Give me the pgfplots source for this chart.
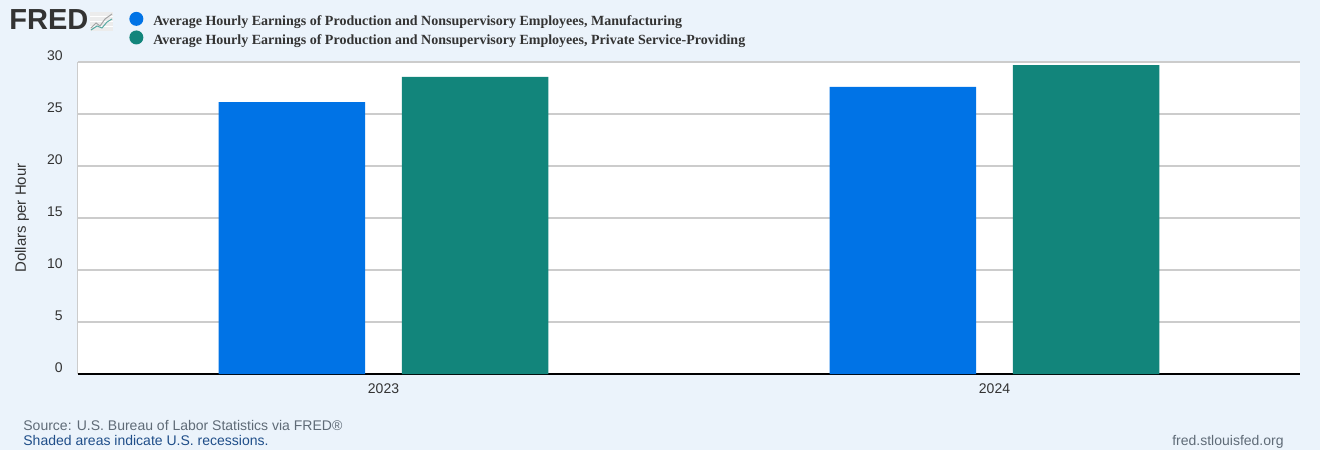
\documentclass[border=0pt]{standalone}
\usepackage{pgfplots}
\pgfplotsset{compat=1.18}
\usepackage{fontspec}
\setmainfont{Liberation Sans}
\newfontfamily\legendfont{Liberation Serif}

\definecolor{fredbg}{HTML}{EBF3FB}
\definecolor{fredblue}{HTML}{0073E6}
\definecolor{fredgreen}{HTML}{12857B}
\definecolor{gridgray}{HTML}{CCCCCC}
\definecolor{txt}{HTML}{333333}
\definecolor{srcgray}{HTML}{5F6B77}
\definecolor{linkblue}{HTML}{1F4E89}

\begin{document}
\begin{tikzpicture}
\fill[fredbg] (0,0) rectangle (660pt,225pt);
\useasboundingbox (0,0) rectangle (660pt,225pt);

% FRED logo
\node[anchor=base west, inner sep=0pt, text=txt,
      font=\bfseries\fontsize{14.5}{14}\selectfont] at (4.5pt,210pt) {FRED};
\begin{scope}[shift={(45pt,209.5pt)}]
  \fill[white!85!gray] (0,0) rectangle (11.5pt,9.5pt);
  \foreach \g in {2.5,5,7.5} \draw[white, line width=0.3pt] (0,\g pt) -- (11.5pt,\g pt);
  \draw[gray!70, line width=0.5pt] (0.5pt,1.5pt) -- (3pt,4pt) -- (5pt,2.5pt) -- (7.5pt,6pt) -- (11pt,8.5pt);
  \draw[fredgreen!70, line width=0.5pt] (0.5pt,0.5pt) -- (3.5pt,2.5pt) -- (6pt,1.5pt) -- (8.5pt,4.5pt) -- (11pt,6pt);
\end{scope}

\begin{axis}[
  at={(39pt,38pt)}, anchor=south west,
  width=611pt, height=156pt, scale only axis,
  xmin=-0.5, xmax=1.5, ymin=0, ymax=30,
  xtick={0,1}, xticklabels={2023,2024},
  ytick={0,5,...,30},
  major tick length=0pt,
  ymajorgrids, grid style={gridgray, line width=0.6pt},
  axis lines*=left,
  x axis line style={black, line width=1pt, -},
  y axis line style={gridgray, line width=0.5pt, -},
  axis background/.style={fill=white},
  /pgf/number format/assume math mode=true,
  tick label style={font=\fontsize{7}{8}\selectfont, text=txt},
  yticklabel style={anchor=south east, inner sep=0pt, xshift=-7.5pt, yshift=0.6pt},
  xticklabel style={anchor=north, inner sep=0pt, yshift=-4.5pt},
  ylabel={Dollars per Hour},
  every axis y label/.style={at={(axis description cs:-0.0458,0.5)}, rotate=90,
    anchor=center, font=\fontsize{7.5}{8}\selectfont, text=txt},
  legend style={at={(axis description cs:0.0417,1.162)}, anchor=north west,
    draw=none, fill=none, inner sep=0pt, row sep=0.3pt,
    font=\legendfont\bfseries\fontsize{7}{7}\selectfont, text=txt,
    nodes={inner sep=0.5pt, text height=5pt, text depth=1.5pt},
    /tikz/every odd column/.style={column sep=4.5pt},
    cells={anchor=west}},
  ybar, bar width=0.24,
  legend image code/.code={\fill[#1] (3.5pt,1.75pt) circle (3.5pt);},
]
\addplot[fill=fredblue, draw=none, bar shift=-0.15] coordinates {(0,26.15) (1,27.6)};
\addplot[fill=fredgreen, draw=none, bar shift=0.15] coordinates {(0,28.56) (1,29.71)};
\legend{{Average Hourly Earnings of Production and Nonsupervisory Employees, Manufacturing},
        {Average Hourly Earnings of Production and Nonsupervisory Employees, Private Service-Providing}}
\end{axis}

% footer
\node[anchor=base west, inner sep=0pt, text=srcgray, font=\fontsize{7}{7}\selectfont]
  at (11.5pt,10pt) {Source: U.S. Bureau of Labor Statistics via FRED®};
\node[anchor=base west, inner sep=0pt, text=linkblue, font=\fontsize{7}{7}\selectfont]
  at (11.5pt,2.5pt) {Shaded areas indicate U.S. recessions.};
\node[anchor=base east, inner sep=0pt, text=srcgray, font=\fontsize{7}{7}\selectfont]
  at (642pt,2.5pt) {fred.stlouisfed.org};
\end{tikzpicture}
\end{document}
